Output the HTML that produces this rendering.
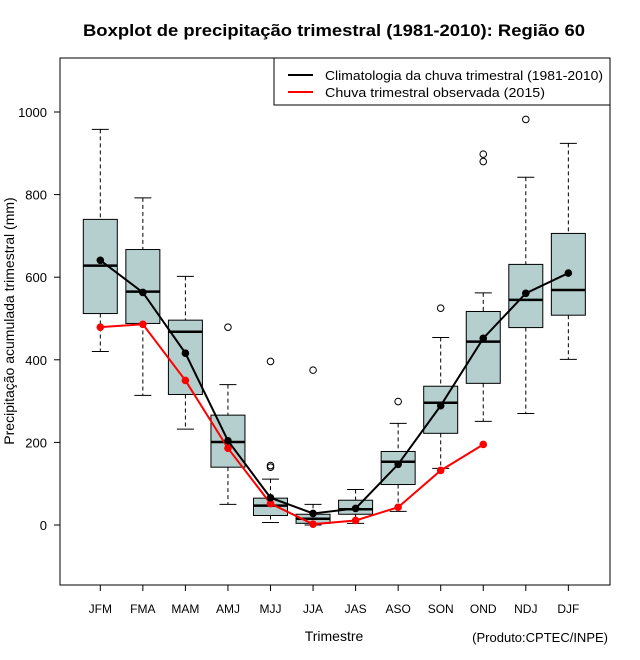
<!DOCTYPE html>
<html><head><meta charset="utf-8"><style>
html,body{margin:0;padding:0;background:#fff;}
svg{display:block;font-family:"Liberation Sans",Arial,sans-serif;}
</style></head><body>
<svg id="chart" width="640" height="660" viewBox="0 0 640 660">
<rect width="640" height="660" fill="#fff"/>
<text x="334" y="36" text-anchor="middle" font-size="17" font-weight="bold" textLength="502" lengthAdjust="spacingAndGlyphs">Boxplot de precipitação trimestral (1981-2010): Região 60</text>
<g id="plot"></g>
<rect x="60" y="58" width="550" height="527" fill="none" stroke="#000" stroke-width="1"/>
<g>
<rect x="274" y="58" width="336" height="47" fill="#fff" stroke="#000"/>
<line x1="288" y1="75" x2="313" y2="75" stroke="#000" stroke-width="2"/>
<text x="325" y="80" font-size="13" textLength="278" lengthAdjust="spacingAndGlyphs">Climatologia da chuva trimestral (1981-2010)</text>
<line x1="288" y1="92" x2="313" y2="92" stroke="#f00" stroke-width="2"/>
<text x="325" y="97" font-size="13" textLength="220" lengthAdjust="spacingAndGlyphs">Chuva trimestral observada (2015)</text>
</g>
<text transform="translate(14,321) rotate(-90)" text-anchor="middle" font-size="14">Precipitação acumulada trimestral (mm)</text>
<text x="334" y="641" text-anchor="middle" font-size="14">Trimestre</text>
<text x="608" y="642" text-anchor="end" font-size="13">(Produto:CPTEC/INPE)</text>
</svg>
<script>
const categories=["JFM","FMA","MAM","AMJ","MJJ","JJA","JAS","ASO","SON","OND","NDJ","DJF"];
const whiskerHigh=[958,792,602,340,111,50,86,246,454,562,842,924];
const q3=[740,667,496,266,65,26,60,178,336,517,631,706];
const medians=[628,565,468,201,47,15,38,153,296,444,545,569];
const q1=[512,488,316,140,23,4,26,98,222,343,478,508];
const whiskerLow=[420,314,232,50,6,0,4,33,137,251,270,401];
const outlierCat=[3,4,4,4,5,7,8,9,9,10];
const outlierVal=[479,396,144,140,375,299,525,898,880,982];
const climMean=[641,563,416,204,66,28,40,147,289,452,561,610];
const observed=[479,486,350,186,52,2,11,43,132,195];
const yTicks=[0,200,400,600,800,1000];

const NS="http://www.w3.org/2000/svg";
const g=document.getElementById('plot');
const xS=i=>100.3+i*42.55;
const yS=v=>525-v*0.413;
function mk(t,a,p){const e=document.createElementNS(NS,t);for(const k in a)e.setAttribute(k,a[k]);(p||g).appendChild(e);return e;}

yTicks.forEach(v=>{
  const tk=mk('line',{x1:54,x2:60,y1:yS(v),y2:yS(v),stroke:'#000'});
  
  
  const t=mk('text',{x:47,y:yS(v)+5,'text-anchor':'end','font-size':13});
  
  
  t.textContent=v;
});
categories.forEach((c,i)=>{
  const x=xS(i);
  const tk=mk('line',{x1:x,x2:x,y1:585,y2:591,stroke:'#000'});
  
  
  const t=mk('text',{x:x,y:613,'text-anchor':'middle','font-size':12});
  
  
  t.textContent=c;
  const bg=mk('g',{});
  
  
  mk('line',{x1:x,x2:x,y1:yS(whiskerHigh[i]),y2:yS(q3[i]),stroke:'#000','stroke-dasharray':'4,3'},bg);
  mk('line',{x1:x,x2:x,y1:yS(q1[i]),y2:yS(whiskerLow[i]),stroke:'#000','stroke-dasharray':'4,3'},bg);
  mk('line',{x1:x-8.5,x2:x+8.5,y1:yS(whiskerHigh[i]),y2:yS(whiskerHigh[i]),stroke:'#000'},bg);
  mk('line',{x1:x-8.5,x2:x+8.5,y1:yS(whiskerLow[i]),y2:yS(whiskerLow[i]),stroke:'#000'},bg);
  mk('rect',{x:x-17,y:yS(q3[i]),width:34,height:yS(q1[i])-yS(q3[i]),fill:'#b5cfcf',stroke:'#000'},bg);
  mk('line',{x1:x-17,x2:x+17,y1:yS(medians[i]),y2:yS(medians[i]),stroke:'#000','stroke-width':2.5},bg);
});
outlierVal.forEach((v,k)=>{
  const o=mk('circle',{cx:xS(outlierCat[k]),cy:yS(v),r:3.3,fill:'none',stroke:'#000'});
  
  
});
function series(vals,col,name){
  const p=mk('polyline',{points:vals.map((v,i)=>xS(i)+','+yS(v)).join(' '),fill:'none',stroke:col,'stroke-width':2});
  
  
  vals.forEach((v,i)=>{
    const c=mk('circle',{cx:xS(i),cy:yS(v),r:3.8,fill:col});
    
    
  });
}
series(observed,'#f00','observed');
series(climMean,'#000','climatology');
</script>
</body></html>
